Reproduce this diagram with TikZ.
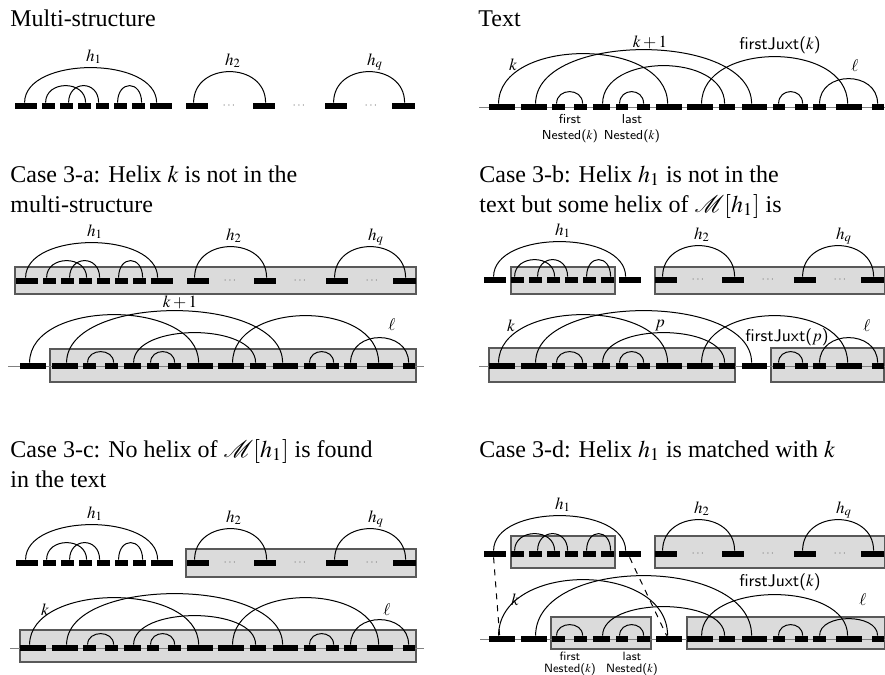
\documentclass[tikz,border=0pt]{standalone}
\usepackage{mathptmx}
\usepackage[no-math]{fontspec}
\setmainfont{Liberation Serif}
\usetikzlibrary{calc}
\definecolor{boxgray}{gray}{0.86}
\definecolor{boxedge}{gray}{0.35}
\tikzset{
 barnode/.style={fill=black, inner sep=0pt, minimum height=3pt, draw=none},
 arcline/.style={line width=0.5pt},
 gbox/.style={fill=boxgray, draw=boxedge, line width=0.6pt, inner sep=0pt},
 seqline/.style={draw=gray, line width=0.5pt},
 lab/.style={font=\fontsize{8.5}{9}\selectfont, inner sep=0pt},
 sflab/.style={font=\fontsize{8.5}{9}\selectfont\sffamily, inner sep=0pt},
 tinylab/.style={font=\fontsize{6.5}{8}\selectfont\sffamily, align=center, inner sep=0pt},
 tinierlab/.style={font=\fontsize{6}{6}\selectfont\sffamily, align=center, inner sep=0pt},
 head/.style={font=\fontsize{12}{15}\selectfont, anchor=base west, inner sep=0pt},
 dots/.style={font=\fontsize{6}{6}\selectfont, text=gray, inner sep=0pt},
 match/.style={dashed, line width=0.5pt},
}
% bar: name, x0, rel left, rel right, y
\newcommand\mkbar[5]{\node[barnode, minimum width={(#4-#3)*0.5pt}] (#1) at ({#2+(#3+#4)/2},#5) {};}
% arc: bar1, dx1, bar2, dx2, height
\newcommand\harc[5]{\draw[arcline] ($(#1.north west)+(#2,0)$) .. controls +(0,{-4/3*#5}) and +(0,{-4/3*#5}) .. ($(#3.north west)+(#4,0)$);}
% multi-structure: prefix, x0, y
\newcommand\multistruct[3]{%
 \mkbar{#1a}{#2}{0}{22}{#3}
 \mkbar{#1b}{#2}{27}{40}{#3}
 \mkbar{#1c}{#2}{45}{58}{#3}
 \mkbar{#1d}{#2}{63}{76}{#3}
 \mkbar{#1e}{#2}{81}{94}{#3}
 \mkbar{#1f}{#2}{99}{112}{#3}
 \mkbar{#1g}{#2}{117}{130}{#3}
 \mkbar{#1h}{#2}{135}{157}{#3}
 \mkbar{#1i}{#2}{171}{193}{#3}
 \mkbar{#1j}{#2}{238}{260}{#3}
 \mkbar{#1k}{#2}{310}{332}{#3}
 \mkbar{#1l}{#2}{377}{400}{#3}
 \node[dots] (#1dA) at ({#2+214},#3) {$\cdots$};
 \node[dots] (#1dB) at ({#2+284},#3) {$\cdots$};
 \node[dots] (#1dC) at ({#2+356},#3) {$\cdots$};
 \harc{#1a}{10}{#1h}{7}{35}
 \harc{#1b}{4}{#1d}{8}{17}
 \harc{#1c}{9}{#1e}{3}{17}
 \harc{#1f}{4}{#1g}{10}{17}
 \harc{#1i}{8}{#1j}{13}{31}
 \harc{#1k}{9}{#1l}{13}{31}
 \node[lab, anchor=base] (#1L1) at ({#2+79},{#3-3-35-7}) {$h_1$};
 \node[lab, anchor=base] (#1L2) at ({#2+218},{#3-3-31-7}) {$h_2$};
 \node[lab, anchor=base] (#1Lq) at ({#2+360},{#3-3-31-7}) {$h_q$};
}
% text row: prefix, x0, y, heights k, k+1, med, fJ, ell, small
\newcommand\textrow[9]{%
 \mkbar{#1a}{#2}{0}{26}{#3}
 \mkbar{#1b}{#2}{32}{58}{#3}
 \mkbar{#1c}{#2}{63}{76}{#3}
 \mkbar{#1d}{#2}{85}{98}{#3}
 \mkbar{#1e}{#2}{104}{121}{#3}
 \mkbar{#1f}{#2}{127}{139}{#3}
 \mkbar{#1g}{#2}{148}{161}{#3}
 \mkbar{#1h}{#2}{167}{193}{#3}
 \mkbar{#1i}{#2}{198}{224}{#3}
 \mkbar{#1j}{#2}{230}{246}{#3}
 \mkbar{#1k}{#2}{253}{278}{#3}
 \mkbar{#1l}{#2}{284}{296}{#3}
 \mkbar{#1m}{#2}{306}{319}{#3}
 \mkbar{#1n}{#2}{324}{337}{#3}
 \mkbar{#1o}{#2}{347}{373}{#3}
 \mkbar{#1p}{#2}{383}{395}{#3}
 \harc{#1a}{10}{#1h}{12}{#4}
 \harc{#1b}{15}{#1k}{10}{#5}
 \harc{#1c}{5}{#1d}{9}{#9}
 \harc{#1e}{10}{#1j}{6}{#6}
 \harc{#1f}{4}{#1g}{7}{#9}
 \harc{#1i}{15}{#1o}{12}{#7}
 \harc{#1l}{6}{#1m}{8}{#9}
 \harc{#1n}{7}{#1p}{6}{#8}
}
\begin{document}
\begin{tikzpicture}[x=0.5pt, y=-0.5pt]
\useasboundingbox (0,0) rectangle (885,675);

% ---------- headings
\node[head] (t1) at (10,26) {Multi-structure};
\node[head] (t2) at (478,26) {Text};
\node[head] (t3a) at (10,182) {Case 3-a: Helix $k$ is not in the};
\node[head] (t3b) at (10,212) {multi-structure};
\node[head] (t4a) at (479,182) {Case 3-b: Helix $h_1$ is not in the};
\node[head] (t4b) at (479,212) {text but some helix of $\mathcal{M}[h_1]$ is};
\node[head] (t5a) at (10,457) {Case 3-c: No helix of $\mathcal{M}[h_1]$ is found};
\node[head] (t5b) at (10,487) {in the text};
\node[head] (t6a) at (479,457) {Case 3-d: Helix $h_1$ is matched with $k$};

% ---------- Multi-structure panel
\multistruct{P}{15}{106}

% ---------- Text panel
\coordinate (TLs) at (479,107);
\coordinate (TLe) at (885,107);
\draw[seqline] (TLs) -- (TLe);
\textrow{T}{489}{107}{50}{54}{38}{47}{25}{12}
\node[lab] (Tk) at (513,65) {$k$};
\node[lab] (Tk1) at (650,42) {$k+1$};
\node[sflab] (TfJ) at (780,45) {firstJuxt($k$)};
\node[lab] (Tl) at (855,66) {$\ell$};
\node[tinylab, anchor=north] (Tfn) at (570,114) {first\\Nested($k$)};
\node[tinylab, anchor=north] (Tln) at (632,114) {last\\Nested($k$)};

% ---------- Case 3-a
\node[gbox, minimum width=200.5pt, minimum height=13.5pt] (Abox) at (215.5,280.5) {};
\node[gbox, minimum width=183pt, minimum height=16.5pt] (Abox2) at (233,365.5) {};
\coordinate (ALs) at (8,366);
\coordinate (ALe) at (424,366);
\draw[seqline] (ALs) -- (ALe);
\multistruct{A}{16}{281}
\textrow{B}{20}{366}{48}{52}{30}{47}{25}{11}
\node[lab] (Bk1) at (180,302) {$k+1$};
\node[lab] (Bl) at (392,325) {$\ell$};

% ---------- Case 3-b
\node[gbox, minimum width=52pt, minimum height=13.5pt] (Cbox1) at (563,280.5) {};
\node[gbox, minimum width=115pt, minimum height=13.5pt] (Cbox2) at (770,280.5) {};
\multistruct{C}{484}{280}
\node[gbox, minimum width=123pt, minimum height=17pt] (Dbox1) at (612,365) {};
\node[gbox, minimum width=56.5pt, minimum height=17pt] (Dbox2) at (827.5,365) {};
\coordinate (DLs) at (479,366);
\coordinate (DLe) at (885,366);
\draw[seqline] (DLs) -- (DLe);
\textrow{D}{489}{366}{48}{52}{30}{47}{25}{11}
\node[lab] (Dk) at (511,326) {$k$};
\node[lab] (Dp) at (660,326) {$p$};
\node[sflab] (DfJ) at (787,337) {firstJuxt($p$)};
\node[lab] (Dl) at (867,326) {$\ell$};

% ---------- Case 3-c
\node[gbox, minimum width=115pt, minimum height=14pt] (Ebox) at (301,563) {};
\multistruct{E}{16}{563}
\node[gbox, minimum width=198pt, minimum height=16pt] (Fbox) at (218,646) {};
\coordinate (FLs) at (10,648);
\coordinate (FLe) at (424,648);
\draw[seqline] (FLs) -- (FLe);
\textrow{F}{20}{648}{47}{51}{29}{47}{25}{11}
\node[lab] (Fk) at (45,610) {$k$};
\node[lab] (Fl) at (387,610) {$\ell$};

% ---------- Case 3-d
\node[gbox, minimum width=52pt, minimum height=16pt] (Gbox1) at (563,552) {};
\node[gbox, minimum width=115pt, minimum height=16pt] (Gbox2) at (770,552) {};
\multistruct{G}{484}{554}
\node[gbox, minimum width=50pt, minimum height=16pt] (Hbox1) at (601,633) {};
\node[gbox, minimum width=99pt, minimum height=16pt] (Hbox2) at (786,633) {};
\coordinate (HLs) at (480,639);
\coordinate (HLe) at (885,639);
\draw[seqline] (HLs) -- (HLe);
\textrow{H}{489}{639}{56}{60}{29}{41}{17}{11}
\node[lab] (Hk) at (515,600) {$k$};
\node[sflab] (HfJ) at (780,582) {firstJuxt($k$)};
\node[lab] (Hl) at (863,600) {$\ell$};
\node[tinierlab, anchor=north] (Hfn) at (570,652) {first\\Nested($k$)};
\node[tinierlab, anchor=north] (Hln) at (632,652) {last\\Nested($k$)};
\draw[match] ($(Ga.south west)+(10,0)$) -- ($(Ha.north west)+(11,0)$);
\draw[match] ($(Gh.south west)+(11,0)$) -- ($(Hh.north west)+(11,0)$);
\end{tikzpicture}
\end{document}
